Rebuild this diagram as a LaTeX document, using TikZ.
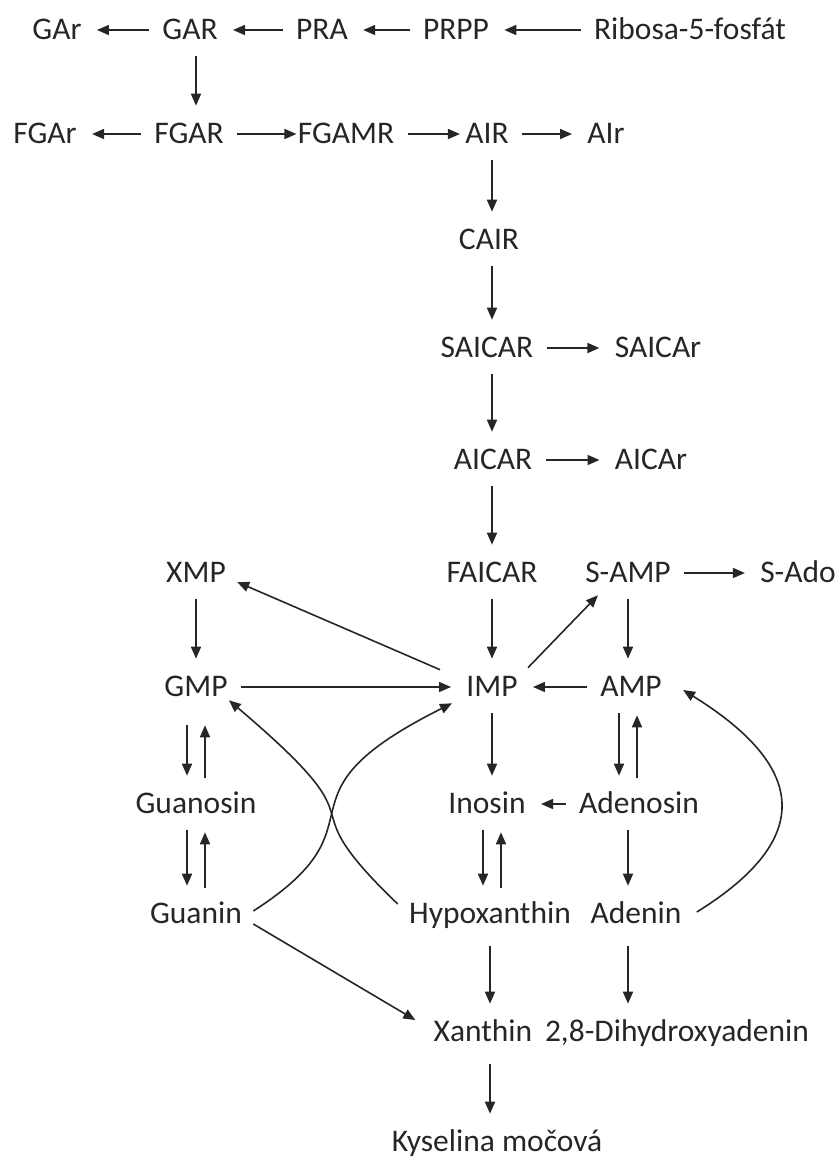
\documentclass[tikz,border=0pt]{standalone}
\usepackage{fontspec}
\setmainfont{Carlito}
\usetikzlibrary{calc,arrows.meta}

\definecolor{ink}{RGB}{38,38,38}

\tikzset{
  met/.style={inner xsep=5.5pt, inner ysep=7pt, text height=9.9pt, text depth=0pt, text=ink},
  rxn/.style={draw=ink, line width=0.8pt, -{Triangle[length=6pt,width=5pt]},
    shorten >=2pt, shorten <=1pt},
  curv/.style={rxn, shorten >=0pt, shorten <=0pt},
}

\begin{document}
\begin{tikzpicture}[x=0.5pt, y=-0.5pt, font=\fontsize{15.75}{19}\selectfont]
  \useasboundingbox (0,0) rectangle (839,1162);

  % de novo rows
  \node[met] (GAr) at (57,30) {GAr};
  \node[met] (GAR) at (190,30) {GAR};
  \node[met] (PRA) at (322,30) {PRA};
  \node[met] (PRPP) at (456,30) {PRPP};
  \node[met] (R5P) at (690,30) {Ribosa-5-fosfát};
  \node[met] (FGAr) at (45,134) {FGAr};
  \node[met] (FGAR) at (189,134) {FGAR};
  \node[met] (FGAMR) at (346,134) {FGAMR};
  \node[met] (AIR) at (487,134) {AIR};
  \node[met] (AIr) at (606,134) {AIr};
  \node[met] (CAIR) at (489,240) {CAIR};
  \node[met] (SAICAR) at (487,348) {SAICAR};
  \node[met] (SAICAr) at (658,348) {SAICAr};
  \node[met] (AICAR) at (493,460) {AICAR};
  \node[met] (AICAr) at (651,460) {AICAr};
  % nucleotides and salvage
  \node[met] (XMP) at (196,573) {XMP};
  \node[met] (FAICAR) at (492,573) {FAICAR};
  \node[met] (SAMP) at (628,573) {S-AMP};
  \node[met] (SAdo) at (798,573) {S-Ado};
  \node[met] (GMP) at (196,687) {GMP};
  \node[met] (IMP) at (492,687) {IMP};
  \node[met] (AMP) at (631,687) {AMP};
  \node[met] (Guo) at (196,804) {Guanosin};
  \node[met] (Ino) at (487,804) {Inosin};
  \node[met] (Ado) at (639,804) {Adenosin};
  \node[met] (Gua) at (196,914) {Guanin};
  \node[met] (Hyp) at (490,914) {Hypoxanthin};
  \node[met] (Ade) at (636,914) {Adenin};
  \node[met] (Xan) at (483,1032) {Xanthin};
  \node[met] (DHA) at (677,1032) {2,8-Dihydroxyadenin};
  \node[met] (UA) at (497,1142) {Kyselina močová};

  % top
  \draw[rxn] (GAR) -- (GAr);
  \draw[rxn] (PRA) -- (GAR);
  \draw[rxn] (PRPP) -- (PRA);
  \draw[rxn] (R5P) -- (PRPP);
  \draw[rxn] (GAR.south -| XMP) -- (FGAR.north -| XMP);
  \draw[rxn] (FGAR) -- (FGAr);
  \draw[rxn, shorten >=-5pt] (FGAR) -- (FGAMR);
  \draw[rxn, shorten >=-3pt] (FGAMR) -- (AIR);
  \draw[rxn] (AIR) -- (AIr);
  \draw[rxn] (AIR.south -| IMP) -- (CAIR.north -| IMP);
  \draw[rxn] (CAIR.south -| IMP) -- (SAICAR.north -| IMP);
  \draw[rxn] (SAICAR) -- (SAICAr);
  \draw[rxn] (SAICAR.south -| IMP) -- (AICAR.north -| IMP);
  \draw[rxn] (AICAR) -- (AICAr);
  \draw[rxn] (AICAR.south -| IMP) -- (FAICAR.north -| IMP);
  \draw[rxn] (FAICAR.south -| IMP) -- (IMP.north);

  % IMP, GMP, AMP
  \draw[rxn] (XMP.south) -- (GMP.north);
  \draw[curv] ($(IMP.north west)+(-15,7)$) -- ($(XMP.east)+(0,9)$);
  \draw[curv] ($(IMP.north east)+(-1,5)$) -- ($(SAMP.south west)+(24,-2)$);
  \draw[rxn] (SAMP) -- (SAdo);
  \draw[rxn] (SAMP.south) -- (SAMP.south |- AMP.north);
  \draw[rxn] (GMP) -- (IMP);
  \draw[rxn] (AMP) -- (IMP);

  % nucleosides and bases
  \draw[rxn, shorten <=7pt] ($(GMP.south)+(-9,0)$) -- ($(Guo.north)+(-9,0)$);
  \draw[rxn, shorten >=7pt] ($(Guo.north)+(9,0)$) -- ($(GMP.south)+(9,0)$);
  \draw[rxn] ($(Guo.south)+(-9,0)$) -- ($(Gua.north)+(-9,0)$);
  \draw[rxn] ($(Gua.north)+(9,0)$) -- ($(Guo.south)+(9,0)$);
  \draw[rxn] (IMP.south) -- (IMP.south |- Ino.north);
  \draw[rxn] ($(Ino.south -| IMP)+(-9,0)$) -- ($(Hyp.north -| IMP)+(-9,0)$);
  \draw[rxn] ($(Hyp.north -| IMP)+(9,0)$) -- ($(Ino.south -| IMP)+(9,0)$);
  \draw[rxn] ($(AMP.south -| SAMP)+(-9,0)$) -- ($(Ado.north -| SAMP)+(-9,0)$);
  \draw[rxn] ($(Ado.north -| SAMP)+(9,0)$) -- ($(AMP.south -| SAMP)+(9,0)$);
  \draw[rxn] (Ado) -- (Ino);
  \draw[rxn] (Ado.south -| SAMP) -- (Ade.north -| SAMP);

  % salvage curves
  \draw[curv] ($(Hyp.west)+(0,-10)$) .. controls +(-120,-115) and +(165,140) .. ($(GMP.south east)+(-10,-11)$);
  \draw[curv] ($(Gua.east)+(0,-3)$) .. controls +(140,-90) and +(-190,95) .. ($(IMP.south west)+(-3,-8)$);
  \draw[curv] ($(Ade.east)+(4,-2)$) .. controls +(121,-75) and +(121,75) .. ($(AMP.east)+(10,3)$);

  % degradation
  \draw[curv] ($(Gua.east)+(0,10)$) -- ($(Xan.west)+(-7,-12)$);
  \draw[rxn, shorten <=4pt] (Hyp.south) -- (Hyp.south |- Xan.north);
  \draw[rxn, shorten <=4pt] (Ade.south -| SAMP) -- (DHA.north -| SAMP);
  \draw[rxn, shorten <=4pt] (Xan.south -| Hyp) -- (UA.north -| Hyp);
\end{tikzpicture}
\end{document}
